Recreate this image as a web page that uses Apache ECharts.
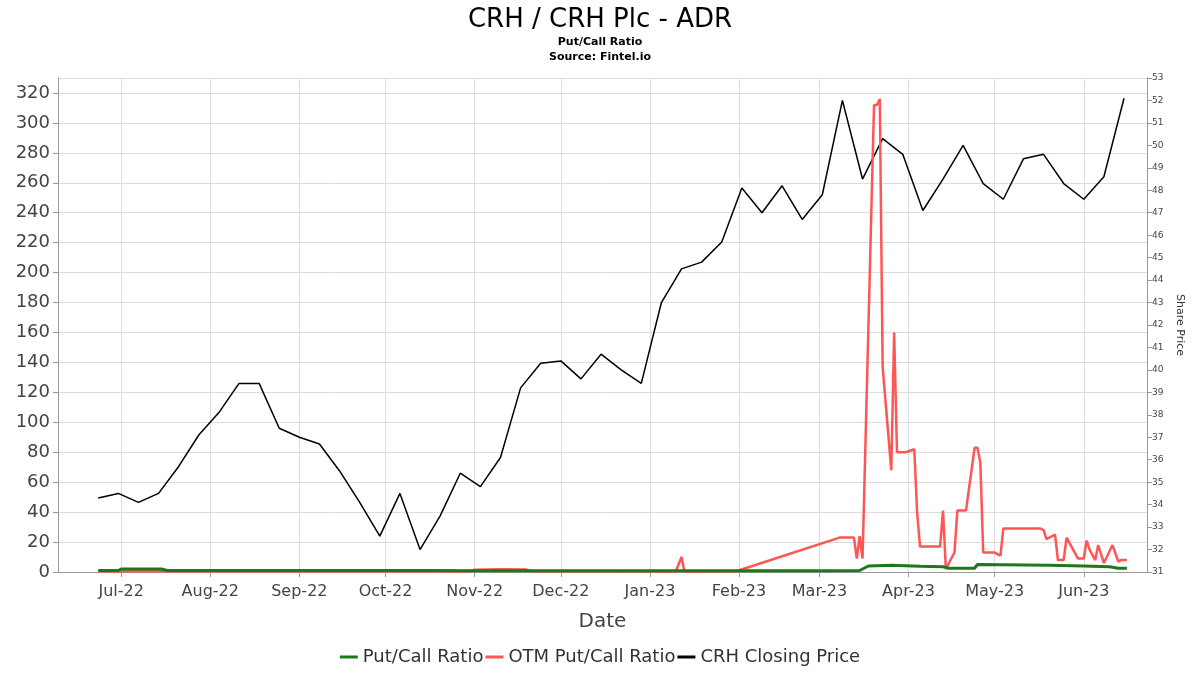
<!DOCTYPE html>
<html lang="en">
<head>
    <meta charset="UTF-8">
    <title>CRH Put/Call Ratio</title>
    <script src="https://cdn.jsdelivr.net/npm/echarts@6/dist/echarts.min.js"></script>
    <style>
        html, body { margin: 0; padding: 0; background: #fff; }
        #main { width: 1200px; height: 675px; }
    </style>
</head>
<body>
<div id="main"></div>
<script type="text/javascript">
    // 收盘价 (weekly)
    var priceDates = ['2022-06-23','2022-06-30','2022-07-07','2022-07-14','2022-07-21','2022-07-28','2022-08-04','2022-08-11',
        '2022-08-18','2022-08-25','2022-09-01','2022-09-08','2022-09-15','2022-09-22','2022-09-29','2022-10-06','2022-10-13',
        '2022-10-20','2022-10-27','2022-11-03','2022-11-10','2022-11-17','2022-11-24','2022-12-01','2022-12-08','2022-12-15',
        '2022-12-22','2022-12-29','2023-01-05','2023-01-12','2023-01-19','2023-01-26','2023-02-02','2023-02-09','2023-02-16',
        '2023-02-23','2023-03-02','2023-03-09','2023-03-16','2023-03-23','2023-03-30','2023-04-06','2023-04-13','2023-04-20',
        '2023-04-27','2023-05-04','2023-05-11','2023-05-18','2023-05-25','2023-06-01','2023-06-08','2023-06-15'];
    var priceValues = [34.3,34.5,34.1,34.5,35.7,37.1,38.1,39.4,39.4,37.4,37.0,36.7,35.5,34.1,32.6,34.5,32.0,33.5,35.4,34.8,
        36.1,39.2,40.3,40.4,39.6,40.7,40.0,39.4,43.0,44.5,44.8,45.7,48.1,47.0,48.2,46.7,47.8,52.0,48.5,50.3,49.6,47.1,48.5,
        50.0,48.3,47.6,49.4,49.6,48.3,47.6,48.6,52.1];

    // OTM Put/Call
    var otmDates = ['2022-06-23','2022-08-01','2022-09-01','2022-10-01','2022-10-30','2022-11-01','2022-11-10','2022-11-19',
        '2022-11-21','2022-12-20','2023-01-10','2023-01-12','2023-01-13','2023-01-31','2023-03-08','2023-03-13','2023-03-14',
        '2023-03-15','2023-03-16','2023-03-20','2023-03-21','2023-03-22','2023-03-23','2023-03-26','2023-03-27','2023-03-28',
        '2023-03-31','2023-04-03','2023-04-04','2023-04-05','2023-04-12','2023-04-13','2023-04-14','2023-04-17','2023-04-18',
        '2023-04-21','2023-04-24','2023-04-25','2023-04-26','2023-04-27','2023-05-01','2023-05-03','2023-05-04','2023-05-17',
        '2023-05-18','2023-05-19','2023-05-22','2023-05-23','2023-05-25','2023-05-26','2023-05-30','2023-06-01','2023-06-02',
        '2023-06-03','2023-06-05','2023-06-06','2023-06-08','2023-06-11','2023-06-13','2023-06-14','2023-06-16'];
    var otmValues = [0.5,0.6,0.5,0.6,0.5,1.5,1.8,1.6,0.5,0.5,0.3,10,0.3,0.5,23,23,9,24,9,312,312,316,137,68,160,80,
        80,82,40,17,17,41,2,13,41,41,83,83,73,13,13,11,29,29,28,22,25,8,8,23,9,9,21,15,8,18,6,18,7,8,8];

    // Put/Call
    var pcDates = ['2022-06-23','2022-06-30','2022-07-01','2022-07-15','2022-07-17','2022-09-01','2022-10-01','2022-10-16',
        '2022-11-01','2023-01-01','2023-03-01','2023-03-15','2023-03-18','2023-03-26','2023-04-05','2023-04-13','2023-04-15',
        '2023-04-24','2023-04-25','2023-05-20','2023-06-01','2023-06-10','2023-06-13','2023-06-16'];
    var pcValues = [1,1,2,2,1,1,1,1,0.8,0.8,0.8,1,4,4.5,3.8,3.5,2.5,2.5,5,4.5,4,3.5,2.5,2.5];

    function pairs(d, v) {
        var out = [];
        for (var i = 0; i < d.length; i++) out.push([d[i], v[i]]);
        return out;
    }

    var months = ['Jan','Feb','Mar','Apr','May','Jun','Jul','Aug','Sep','Oct','Nov','Dec'];
    var myChart = echarts.init(document.getElementById('main'));

    var option = {
        animation: false,
        backgroundColor: '#fff',
        title: {
            text: 'CRH / CRH Plc - ADR',
            subtext: 'Put/Call Ratio\nSource: Fintel.io',
            left: 'center',
            top: 2,
            itemGap: 2,
            textStyle: { fontSize: 26, fontWeight: 'normal', color: '#000', fontFamily: 'DejaVu Sans' },
            subtextStyle: { fontSize: 11, fontWeight: 'bold', color: '#000', lineHeight: 15, fontFamily: 'DejaVu Sans' }
        },
        legend: {
            bottom: 4,
            left: 'center',
            itemWidth: 18,
            itemGap: 2,
            icon: 'rect',
            itemHeight: 3,
            textStyle: { fontSize: 18, color: '#333', fontFamily: 'DejaVu Sans' },
            data: ['Put/Call Ratio', 'OTM Put/Call Ratio', 'CRH Closing Price']
        },
        grid: { left: 58, right: 53, top: 78, bottom: 103 },
        xAxis: {
            type: 'time',
            min: '2022-06-09',
            max: '2023-06-23',
            name: 'Date',
            nameLocation: 'middle',
            nameGap: 40,
            nameTextStyle: { fontSize: 20, color: '#444', fontFamily: 'DejaVu Sans' },
            minInterval: 28 * 86400000,
            maxInterval: 31 * 86400000,
            axisLine: { lineStyle: { color: '#999' } },
            axisTick: { show: true, lineStyle: { color: '#999' } },
            splitLine: { show: true, lineStyle: { color: '#ddd' } },
            axisLabel: {
                fontSize: 16, color: '#444', fontFamily: 'DejaVu Sans', margin: 12,
                formatter: function (v) {
                    var d = new Date(v);
                    return months[d.getMonth()] + '-' + String(d.getFullYear()).slice(2);
                }
            }
        },
        yAxis: [{
            type: 'value',
            min: 0,
            max: 330,
            interval: 20,
            axisLine: { show: true, lineStyle: { color: '#999' } },
            axisTick: { show: true },
            splitLine: { lineStyle: { color: '#ddd' } },
            axisLabel: { fontSize: 18, color: '#444', fontFamily: 'DejaVu Sans', showMaxLabel: false }
        }, {
            type: 'value',
            min: 31,
            max: 53,
            interval: 1,
            name: 'Share Price',
            nameLocation: 'middle',
            nameGap: 26,
            nameRotate: -90,
            nameTextStyle: { fontSize: 11, color: '#333', fontFamily: 'DejaVu Sans' },
            axisLine: { show: true, lineStyle: { color: '#999' } },
            axisTick: { show: true },
            splitLine: { show: false },
            axisLabel: { fontSize: 9, color: '#444', fontFamily: 'DejaVu Sans', margin: 5 }
        }],
        series: [{
            name: 'Put/Call Ratio',
            type: 'line',
            yAxisIndex: 0,
            symbol: 'none',
            z: 3,
            lineStyle: { color: '#1a7a1a', width: 3 },
            itemStyle: { color: '#1a7a1a' },
            data: pairs(pcDates, pcValues)
        }, {
            name: 'OTM Put/Call Ratio',
            type: 'line',
            yAxisIndex: 0,
            symbol: 'none',
            z: 2,
            lineStyle: { color: '#ff5555', width: 2.5 },
            itemStyle: { color: '#ff5555' },
            data: pairs(otmDates, otmValues)
        }, {
            name: 'CRH Closing Price',
            type: 'line',
            yAxisIndex: 1,
            symbol: 'none',
            z: 1,
            lineStyle: { color: '#000', width: 1.5 },
            itemStyle: { color: '#000' },
            data: pairs(priceDates, priceValues)
        }]
    };

    myChart.setOption(option);
</script>
</body>
</html>
